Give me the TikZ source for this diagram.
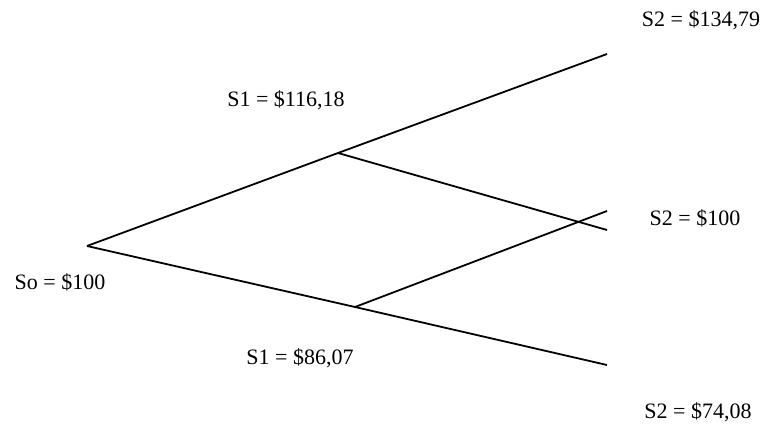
\documentclass[tikz,border=0pt]{standalone}
\usepackage{fontspec}
\setmainfont{Liberation Serif}
\usepackage{tikz}
\usetikzlibrary{positioning}
\tikzset{
  branch/.style={line width=1.8pt,draw=black},
  price/.style={font=\fontsize{22}{26}\selectfont,inner sep=0pt,anchor=center}
}
\begin{document}
\begin{tikzpicture}[x=1pt,y=-1pt]
  \useasboundingbox (0,0) rectangle (774,425);
  % lattice points
  \coordinate (s0) at (87,246);
  \coordinate (up) at (338,153);
  \coordinate (dn) at (355,307);
  \coordinate (uu) at (607,54);
  \coordinate (ud) at (607,230);
  \coordinate (du) at (607,211);
  \coordinate (dd) at (607,365);

  % branches
  \draw[branch] (s0) -- (up);
  \draw[branch] (s0) -- (dn);
  \draw[branch] (up) -- (uu);
  \draw[branch] (up) -- (ud);
  \draw[branch] (dn) -- (du);
  \draw[branch] (dn) -- (dd);

  % prices
  \node[price] (p0) at (60,282) {So = \$100};
  \node[price] (pu) at (286,100) {S1 = \$116,18};
  \node[price] (pd) at (300,358) {S1 = \$86,07};
  \node[price] (puu) at (701,20) {S2 = \$134,79};
  \node[price] (pud) at (695,218) {S2 = \$100};
  \node[price] (pdd) at (698,412) {S2 = \$74,08};
\end{tikzpicture}
\end{document}
